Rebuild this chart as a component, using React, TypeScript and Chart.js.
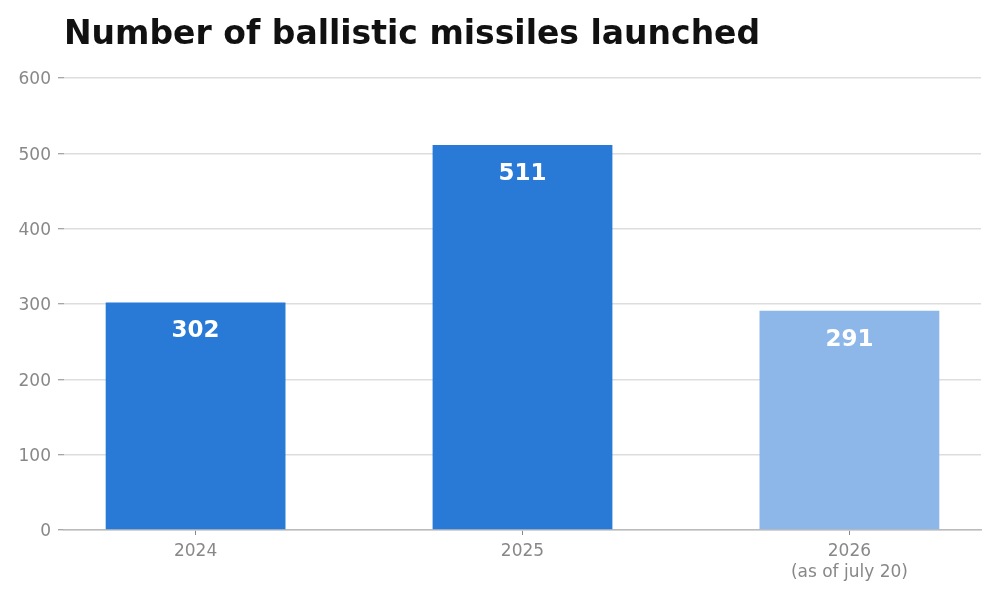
import React, { useEffect, useRef } from "react";
import { Chart, registerables } from "chart.js";

Chart.register(...registerables);

const TITLE = "Number of ballistic missiles launched";
const categories: (string | string[])[] = ["2024", "2025", ["2026", "(as of july 20)"]];
const values = [302, 511, 291];
const barColors = ["#2979d6", "#2979d6", "#8eb7e9"];
const yTicks = [0, 100, 200, 300, 400, 500, 600];

const FONT = "'DejaVu Sans', sans-serif";

const overlayPlugin = {
  id: "overlay",
  afterDraw(chart: any) {
    const ctx = chart.ctx;
    ctx.save();
    ctx.fillStyle = "#111111";
    ctx.font = `bold 33px ${FONT}`;
    ctx.textAlign = "left";
    ctx.textBaseline = "middle";
    ctx.fillText(TITLE, chart.chartArea.left, 35);
    const meta = chart.getDatasetMeta(0);
    ctx.fillStyle = "#ffffff";
    ctx.font = `bold 23px ${FONT}`;
    ctx.textAlign = "center";
    meta.data.forEach((bar: any, i: number) => {
      ctx.fillText(String(values[i]), bar.x, bar.y + 29);
    });
    ctx.restore();
  },
};

export default function App() {
  const ref = useRef<HTMLCanvasElement>(null);
  useEffect(() => {
    document.body.style.margin = "0";
    const canvas = ref.current!;
    const chart = new Chart(canvas, {
      type: "bar",
      data: {
        datasets: [
          {
            data: values.map((v, i) => ({ x: i, y: v })),
            backgroundColor: barColors,
            barPercentage: 0.55,
            categoryPercentage: 1,
          },
        ],
      },
      options: {
        animation: false,
        responsive: false,
        maintainAspectRatio: false,
        layout: { padding: { left: 0, right: 19, top: 78, bottom: 0 } },
        plugins: { legend: { display: false }, title: { display: false }, tooltip: { enabled: false } },
        scales: {
          x: {
            type: "linear",
            min: -0.4025,
            max: 2.4025,
            offset: false,
            afterBuildTicks(scale: any) {
              scale.ticks = categories.map((_, i) => ({ value: i }));
            },
            afterFit(scale: any) {
              scale.height = 70;
            },
            ticks: {
              callback: (v: any) => categories[Math.round(Number(v))] as any,
              color: "#888888",
              font: { family: FONT, size: 17, lineHeight: 1.25 },
              padding: 6,
              maxRotation: 0,
              autoSkip: false,
            },
            grid: {
              offset: false,
              drawOnChartArea: false,
              drawTicks: true,
              tickLength: 5,
              tickColor: "#888888",
              tickWidth: 1,
            },
            border: { display: true, color: "#bbbbbb", width: 1.5 },
          },
          y: {
            min: 0,
            max: 600,
            afterBuildTicks(scale: any) {
              scale.ticks = yTicks.map((v) => ({ value: v }));
            },
            afterFit(scale: any) {
              scale.width = 64;
            },
            ticks: {
              color: "#888888",
              font: { family: FONT, size: 17 },
              padding: 7,
              labelOffset: 2,
            },
            grid: { color: "#dddddd", lineWidth: 1.5, tickLength: 6, tickColor: "#888888", tickWidth: 1 },
            border: { display: false },
          },
        },
      },
      plugins: [overlayPlugin],
    } as any);
    return () => chart.destroy();
  }, []);
  return <canvas ref={ref} width={1000} height={600} style={{ display: "block", width: 1000, height: 600 }} />;
}
